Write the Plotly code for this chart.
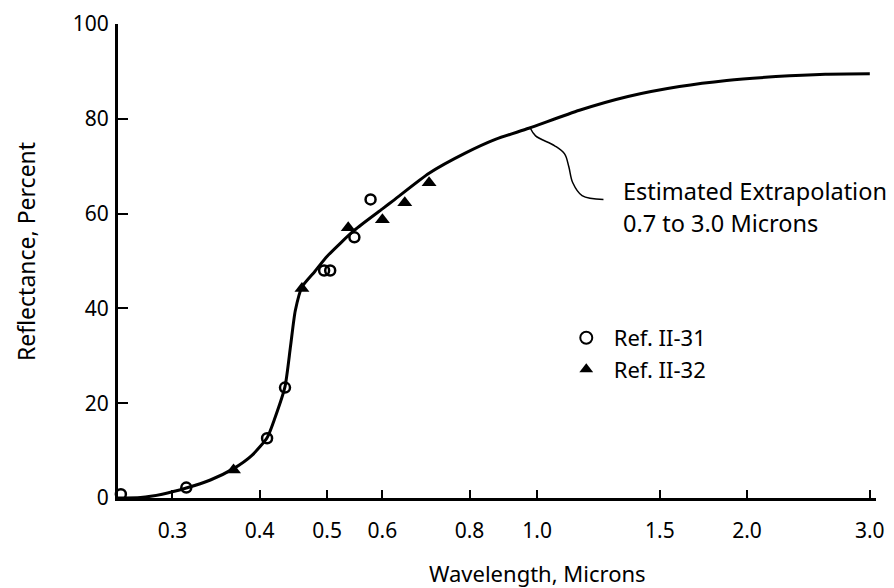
import plotly.graph_objects as go

# Smooth reflectance curve
curve_wl = [0.25, 0.27, 0.29, 0.314, 0.34, 0.367, 0.39, 0.41, 0.421, 0.435, 0.443,
            0.45, 0.46, 0.48, 0.50, 0.547, 0.60, 0.624, 0.70, 0.79, 0.873, 0.973,
            1.15, 1.35, 1.6, 1.87, 2.2, 2.59, 3.0]
curve_r = [0.0, 0.1, 0.8, 2.1, 3.8, 6.2, 9.0, 12.7, 17.0, 23.5, 32.0,
           39.5, 44.5, 47.8, 51.0, 56.5, 61.0, 62.9, 68.5, 72.8, 75.7, 78.0,
           81.8, 84.7, 86.8, 88.1, 88.9, 89.4, 89.5]

# Ref. II-31 (open circles)
ref31_wl = [0.253, 0.314, 0.41, 0.435, 0.495, 0.505, 0.547, 0.577]
ref31_r = [0.8, 2.2, 12.6, 23.3, 48.0, 48.0, 55.0, 63.0]

# Ref. II-32 (filled triangles)
ref32_wl = [0.367, 0.46, 0.536, 0.60, 0.646, 0.70]
ref32_r = [5.9, 44.2, 57.0, 58.7, 62.3, 66.5]

# Leader line for the annotation
leader_wl = [0.978, 0.995, 1.06, 1.095, 1.11, 1.125, 1.16, 1.245]
leader_r = [78.0, 76.4, 74.3, 72.6, 70.0, 66.5, 63.8, 63.0]

x_ticks = [0.3, 0.4, 0.5, 0.6, 0.8, 1.0, 1.5, 2.0, 3.0]
x_ticktext = ["0.3", "0.4", "0.5", "0.6", "0.8", "1.0", "1.5", "2.0", "3.0"]
y_ticks = [0, 20, 40, 60, 80, 100]

FONT = "Noto Sans"

fig = go.Figure()
fig.add_trace(go.Scatter(x=curve_wl, y=curve_r, mode="lines",
                         line=dict(color="black", width=3, shape="spline", smoothing=0.6),
                         showlegend=False, cliponaxis=False, hoverinfo="skip"))
fig.add_trace(go.Scatter(x=leader_wl, y=leader_r, mode="lines",
                         line=dict(color="black", width=1.5, shape="spline", smoothing=1.0),
                         showlegend=False, hoverinfo="skip"))
fig.add_trace(go.Scatter(x=ref31_wl, y=ref31_r, mode="markers", name="Ref. II-31",
                         marker=dict(symbol="circle-open", size=10, color="black",
                                     line=dict(width=2.5, color="black")),
                         cliponaxis=False))
fig.add_trace(go.Scatter(x=ref32_wl, y=ref32_r, mode="markers", name="Ref. II-32",
                         marker=dict(symbol="triangle-up", size=13, color="black"),
                         cliponaxis=False))

fig.add_annotation(x=0.664, y=0.647, xref="paper", yref="paper",
                   text="Estimated Extrapolation",
                   showarrow=False, xanchor="left", yanchor="middle", align="left",
                   font=dict(family=FONT, size=23.5, color="black"))
fig.add_annotation(x=0.664, y=0.580, xref="paper", yref="paper",
                   text="0.7 to 3.0 Microns",
                   showarrow=False, xanchor="left", yanchor="middle", align="left",
                   font=dict(family=FONT, size=23.5, color="black"))
fig.add_annotation(x=0.554, y=-0.1576, xref="paper", yref="paper",
                   text="Wavelength, Microns", showarrow=False,
                   xanchor="center", yanchor="middle",
                   font=dict(family=FONT, size=22, color="black"))
fig.add_annotation(x=-0.1213, y=0.519, xref="paper", yref="paper",
                   text="Reflectance, Percent", showarrow=False, textangle=-90,
                   xanchor="center", yanchor="middle",
                   font=dict(family=FONT, size=23, color="black"))

fig.update_layout(
    width=894, height=588,
    margin=dict(l=118, r=9, t=22, b=90),
    paper_bgcolor="white", plot_bgcolor="white",
    font=dict(family=FONT, size=21, color="black"),
    legend=dict(x=0.5815, y=0.382, xanchor="left", yanchor="top",
                bgcolor="rgba(0,0,0,0)", font=dict(family=FONT, size=22),
                itemsizing="constant", itemwidth=45),
    xaxis=dict(type="log", range=[-0.601, 0.486], tickvals=x_ticks, ticktext=x_ticktext,
               showline=True, linecolor="black", linewidth=3, showgrid=False,
               zeroline=False, ticks="inside", ticklen=8, tickwidth=2, tickcolor="black",
               ticklabelstandoff=12, tickfont=dict(family=FONT, size=21)),
    yaxis=dict(range=[0, 100], tickvals=y_ticks, showline=True, linecolor="black",
               linewidth=3, showgrid=False, zeroline=False, ticks="inside", ticklen=10,
               tickwidth=2, tickcolor="black", ticklabelstandoff=2,
               tickfont=dict(family=FONT, size=21)),
)

fig.write_html("out.html")
